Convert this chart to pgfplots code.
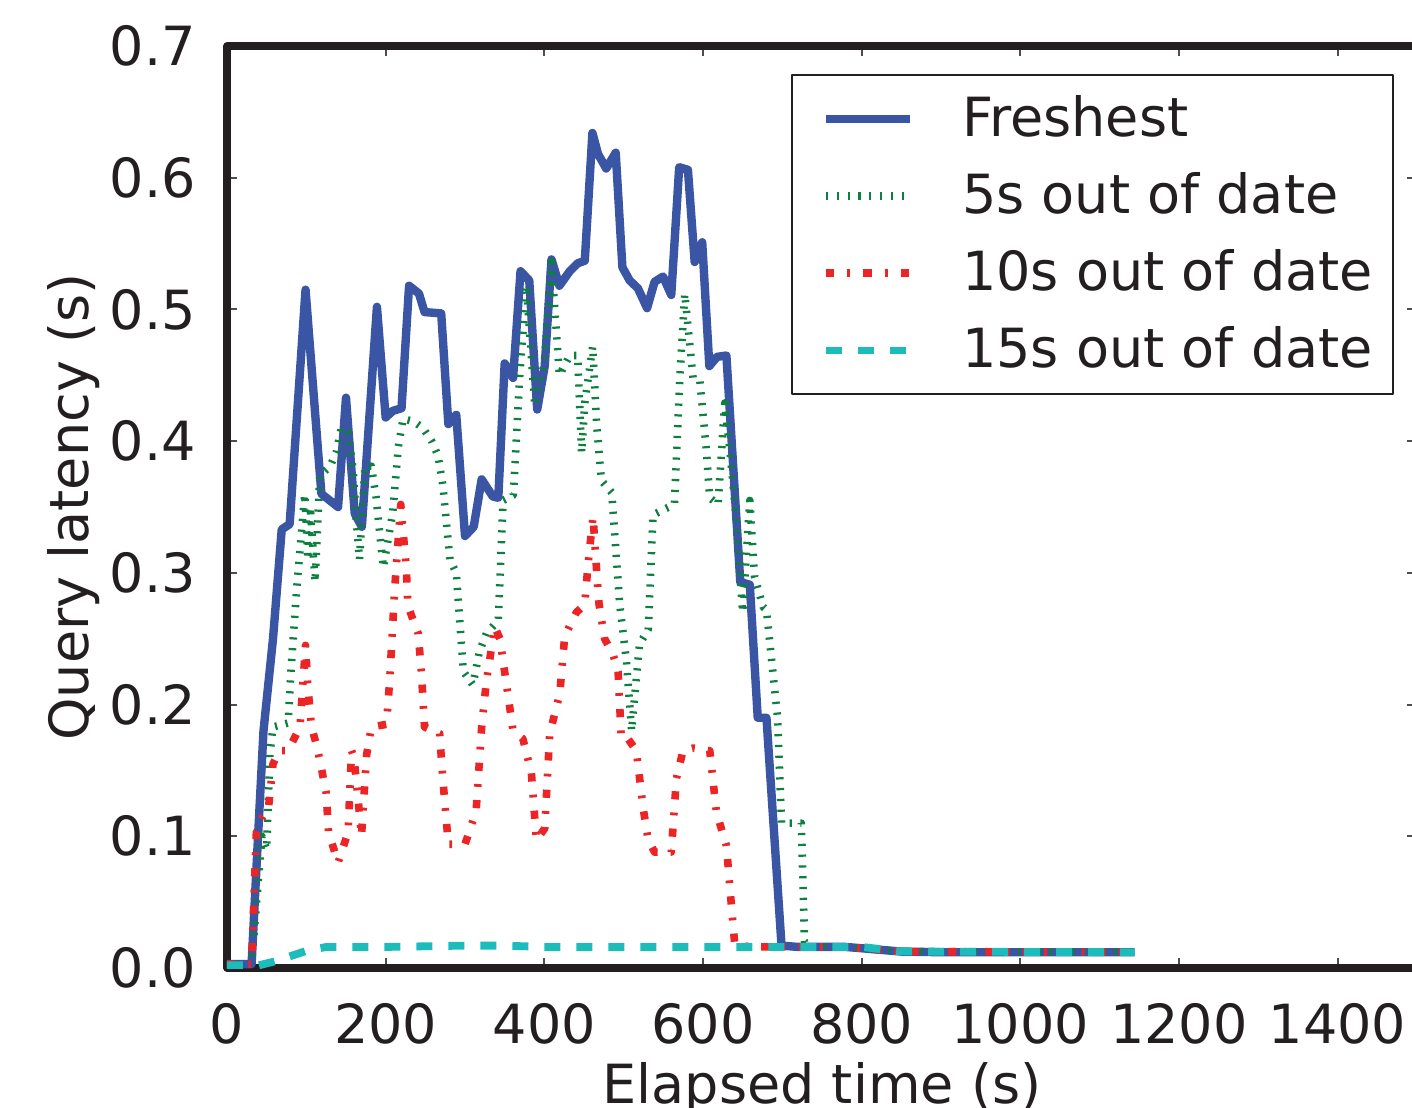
\documentclass[border=0pt]{standalone}
\usepackage{fontspec}
\setmainfont{DejaVu Sans}
\usepackage{pgfplots}
\pgfplotsset{compat=1.18}
\definecolor{cblue}{RGB}{58,85,164}
\definecolor{cgreen}{RGB}{12,128,62}
\definecolor{cred}{RGB}{237,36,38}
\definecolor{ccyan}{RGB}{28,188,188}
\definecolor{cink}{RGB}{35,31,32}
\newcommand{\tf}{\fontsize{13.5}{16.2}\selectfont}
\begin{document}
\begin{tikzpicture}
\begin{axis}[
  width=297.5pt, height=230.5pt, scale only axis,
  xmin=0, xmax=1500, ymin=0, ymax=0.7,
  xtick={0,200,...,1400},
  ytick={0,0.1,...,0.7},
  axis line style={line width=1.8pt, color=cink},
  major tick length=2.6pt,
  tick style={line width=0.5pt, color=cink!80},
  tick align=inside,
  /pgf/number format/assume math mode=true,
  yticklabel style={/pgf/number format/.cd, fixed, fixed zerofill, precision=1, /tikz/.cd, font=\tf, color=cink, xshift=-4.3pt},
  xticklabel style={/pgf/number format/.cd, fixed, 1000 sep={}, /tikz/.cd, font=\tf, color=cink, yshift=-5.2pt},
  xlabel={Elapsed time (s)},
  ylabel={Query latency (s)},
  every axis x label/.style={at={(axis description cs:0.5,-0.1464)}, anchor=base, font=\tf, color=cink},
  every axis y label/.style={at={(axis description cs:-0.095,0.5)}, anchor=south, rotate=90, font=\tf, color=cink},
  legend cell align=left,
  legend style={at={(rel axis cs:1,1)}, anchor=north east, xshift=-5.75pt, yshift=-7pt,
    draw=cink, line width=0.6pt, font=\tf, text=cink,
    inner xsep=3pt, inner ysep=3pt, row sep=3.55pt, column sep=10pt},
  legend image code/.code={\path (0pt,0pt); \draw[#1, line cap=butt] (4.5pt,0pt) -- (25.5pt,0pt);},
  line join=round,
]
\addplot[cblue, line width=2.1pt] coordinates {
(0,0.003) (31,0.003) (40,0.11) (46,0.18) (58,0.25) (69,0.333) (79,0.337)
(99,0.515) (119,0.36) (140,0.35) (150,0.433) (161,0.345) (170,0.335)
(189,0.502) (200,0.418) (209,0.423) (220,0.425) (229.5,0.518) (242,0.512)
(249,0.498) (270,0.497) (279,0.413) (289,0.42) (300,0.328) (311,0.335)
(321,0.371) (335,0.358) (342,0.357) (350,0.459) (360.6,0.448) (370,0.529)
(381,0.522) (391,0.424) (400.5,0.457) (409,0.538) (419,0.518) (432,0.529)
(442,0.535) (451,0.537) (460.6,0.634) (467.7,0.618) (478,0.607) (490,0.619)
(498.4,0.532) (507.6,0.522) (518,0.516) (529.5,0.501) (539,0.521) (549.6,0.525)
(560,0.511) (570,0.608) (581,0.606) (589.5,0.536) (599,0.551) (608,0.457)
(617.6,0.464) (629.5,0.465) (647,0.293) (659,0.291) (669,0.19) (680,0.19)
(699,0.017) (720,0.016) (780,0.016) (800,0.015) (850,0.0125) (900,0.012)
(1000,0.012) (1144,0.012)
};
\addlegendentry{Freshest}
\addplot[cgreen, line width=1.9pt, dash pattern=on 0.55pt off 2.15pt] coordinates {
(0,0.003) (31,0.003) (44,0.10) (50,0.09) (54,0.162) (58,0.183) (77,0.186)
(81,0.229) (88,0.289) (98,0.36) (102,0.31) (105,0.35) (111,0.293) (117,0.374)
(130,0.381) (138,0.392) (144,0.41) (153,0.406) (159,0.378) (163,0.34)
(167,0.31) (174,0.381) (182,0.381) (188,0.357) (197,0.304) (203,0.325)
(209,0.346) (216,0.396) (222,0.417) (235,0.415) (247,0.41) (258,0.40)
(266,0.389) (272,0.367) (281,0.31) (289,0.30) (298,0.225) (310,0.215)
(318,0.24) (327,0.254) (342,0.264) (348,0.355) (361,0.359) (369,0.45)
(377.5,0.518) (388,0.427) (400,0.459) (409,0.536) (419,0.45) (432,0.465)
(442,0.465) (447,0.391) (451,0.429) (461,0.472) (466,0.412) (472,0.37)
(485,0.361) (495,0.276) (503.5,0.233) (510,0.18) (520,0.246) (531,0.257)
(537,0.344) (550,0.348) (564,0.352) (570.6,0.446) (577,0.512) (587.5,0.448)
(596,0.446) (604,0.395) (608.5,0.357) (619,0.352) (627.4,0.429) (633.6,0.395)
(642,0.34) (650,0.27) (659,0.355) (665,0.297) (676,0.274) (680,0.272)
(694,0.19) (699,0.11) (716,0.11) (724,0.11) (728,0.02) (735,0.016)
(780,0.016) (800,0.015) (850,0.0125) (1144,0.012)
};
\addlegendentry{5s out of date}
\addplot[cred, line width=1.9pt, dash pattern=on 2.05pt off 3.3pt on 0.7pt off 3.3pt] coordinates {
(0,0.003) (31,0.003) (37,0.103) (45,0.115) (52,0.12) (58,0.155) (66,0.165)
(77,0.165) (92,0.183) (99,0.245) (102,0.213) (106.5,0.183) (113,0.169)
(117,0.158) (125,0.133) (128,0.103) (140,0.08) (152.6,0.103) (157,0.165)
(160,0.16) (165,0.13) (169.5,0.1) (176,0.162) (182,0.183) (201,0.185)
(205,0.218) (211.5,0.289) (219,0.352) (226,0.304) (228,0.275) (241,0.254)
(245,0.225) (249,0.183) (268,0.178) (272,0.144) (279,0.094) (300,0.094)
(314,0.119) (321,0.183) (327,0.218) (337.5,0.259) (344,0.25) (354,0.208)
(360.6,0.18) (373,0.174) (383.7,0.148) (390,0.097) (400.5,0.106)
(406.8,0.178) (419.4,0.208) (425.7,0.252) (440.4,0.27) (451,0.276)
(455,0.306) (461.4,0.343) (466,0.301) (469,0.276) (476,0.25) (486.6,0.238)
(493,0.225) (497,0.174) (505.5,0.174) (516,0.165) (524.4,0.122) (531,0.097)
(539,0.088) (560,0.088) (566.5,0.144) (574.8,0.165) (587.5,0.167)
(608.5,0.165) (617,0.118) (629.5,0.093) (636,0.046) (640,0.018) (660,0.016)
(780,0.016) (800,0.015) (850,0.0125) (1144,0.012)
};
\addlegendentry{10s out of date}
\addplot[ccyan, line width=1.95pt, dash pattern=on 4pt off 4pt] coordinates {
(0,0.002) (30,0.002) (40,0.002) (60,0.005) (80,0.009) (100,0.013)
(125,0.016) (200,0.016) (300,0.017) (350,0.017) (400,0.016) (700,0.016)
(800,0.016) (850,0.0125) (1144,0.012)
};
\addlegendentry{15s out of date}
\end{axis}
\pgfresetboundingbox
\useasboundingbox ([xshift=-56.75pt,yshift=-34.75pt]current axis.south west) rectangle ([xshift=-1.25pt,yshift=11.5pt]current axis.north east);
\end{tikzpicture}
\end{document}
